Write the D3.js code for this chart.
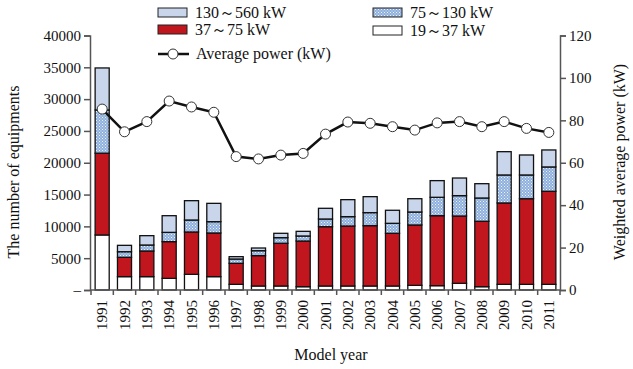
<!DOCTYPE html>
<html>
<head>
<meta charset="utf-8">
<script src="https://cdnjs.cloudflare.com/ajax/libs/d3/7.8.5/d3.min.js"></script>
<style>
  body { margin: 0; background: #fff; }
  svg text { font-family: "Liberation Serif", serif; fill: #111; }
</style>
</head>
<body>
<div id="chart"></div>
<script>
// data
var years = ["1991","1992","1993","1994","1995","1996","1997","1998","1999","2000",
             "2001","2002","2003","2004","2005","2006","2007","2008","2009","2010","2011"];
var kw19_37  = [8650, 2100, 2100, 1830, 2460, 2100, 890, 630, 630, 520, 630, 630, 630, 630, 730, 680, 1050, 520, 890, 890, 890];
var kw37_75  = [12850, 3040, 4030, 5770, 6660, 6860, 3300, 4770, 6710, 7180, 9320, 9430, 9480, 8280, 9490, 11000, 10580, 10280, 12790, 13460, 14620];
var kw75_130 = [6800, 880, 940, 1460, 1880, 1780, 680, 780, 890, 790, 1210, 1470, 2050, 1570, 2040, 2890, 3200, 3660, 4400, 3730, 3830];
var kw130_560 = [6600, 1000, 1470, 2620, 3040, 2880, 370, 420, 680, 730, 1680, 2670, 2510, 2050, 2090, 2620, 2770, 2250, 3660, 3140, 2670];
var avgPower = [85.3, 74.6, 79.4, 89.1, 86.3, 83.8, 62.9, 61.8, 63.6, 64.4, 73.5, 79.2, 78.6, 77.0, 75.4, 78.8, 79.4, 77.0, 79.4, 76.2, 74.3];
var leftTicks = [0, 5000, 10000, 15000, 20000, 25000, 30000, 35000, 40000];
var rightTicks = [0, 20, 40, 60, 80, 100, 120];

var W = 633, H = 369;
var FONT = "Liberation Serif";
var svg = d3.select("#chart").append("svg").attr("width", W).attr("height", H)
  .attr("font-family", FONT);

// hatch pattern for 75~130 kW
var defs = svg.append("defs");
var pat = defs.append("pattern").attr("id", "dots").attr("patternUnits", "userSpaceOnUse")
  .attr("width", 3).attr("height", 3);
pat.append("rect").attr("width", 3).attr("height", 3).attr("fill", "#8fb0dc");
pat.append("rect").attr("x", 0).attr("y", 0).attr("width", 1).attr("height", 1).attr("fill", "#eef3fb");
pat.append("rect").attr("x", 1.5).attr("y", 1.5).attr("width", 1).attr("height", 1).attr("fill", "#dde7f5");

var series = [
  {key: "w", vals: kw19_37, fill: "#ffffff", label: "19～37 kW"},
  {key: "r", vals: kw37_75, fill: "#c2161f", label: "37～75 kW"},
  {key: "h", vals: kw75_130, fill: "url(#dots)", label: "75～130 kW"},
  {key: "b", vals: kw130_560, fill: "#c8d5ea", label: "130～560 kW"}
];

var x = d3.scaleBand().domain(years).range([91, 560]).paddingInner(0.37).paddingOuter(0.185);
var y = d3.scaleLinear().domain([0, 40000]).range([290, 35.5]);
var y2 = d3.scaleLinear().domain([0, 120]).range([290, 35.5]);

// stacked bars
var rows = years.map(function(yr, i) {
  var o = {year: yr};
  series.forEach(function(s) { o[s.key] = s.vals[i]; });
  return o;
});
var stack = d3.stack().keys(series.map(function(s) { return s.key; }))(rows);

svg.append("g").selectAll("g").data(stack).enter().append("g")
  .attr("fill", function(d, i) { return series[i].fill; })
  .selectAll("rect").data(function(d) { return d; }).enter().append("rect")
    .attr("x", function(d) { return x(d.data.year); })
    .attr("width", x.bandwidth())
    .attr("y", function(d) { return y(d[1]); })
    .attr("height", function(d) { return y(d[0]) - y(d[1]); })
    .attr("stroke", "#111").attr("stroke-width", 1.3);

// axes
var axisCol = "#555";
var gl = svg.append("g").attr("transform", "translate(90,0)")
  .call(d3.axisLeft(y).tickValues(leftTicks).tickSize(6).tickPadding(3)
    .tickFormat(function(d) { return d === 0 ? "–" : d; }));

var gr = svg.append("g").attr("transform", "translate(560,0)")
  .call(d3.axisRight(y2).tickValues(rightTicks).tickSize(6).tickPadding(3));

var gx = svg.append("g").attr("transform", "translate(0,290)")
  .call(d3.axisBottom(x).tickSize(0).tickPadding(8));
gx.selectAll("text")
  .attr("transform", "rotate(-90)").attr("text-anchor", "end")
  .attr("x", -10).attr("y", 0).attr("dy", "0.35em");
gx.select(".domain").attr("d", "M90,0H560");

// tick marks between the bars
var bounds = years.map(function(yr) { return x(yr) - x.step() * x.paddingInner() / 2; });
bounds.push(560);
gx.selectAll("line.sep").data(bounds).enter().append("line").attr("class", "sep")
  .attr("x1", function(d) { return d; }).attr("x2", function(d) { return d; })
  .attr("y1", 0).attr("y2", 5);

[gl, gr, gx].forEach(function(g) {
  g.attr("font-family", FONT).attr("font-size", 15);
  g.selectAll(".domain").attr("stroke", axisCol).attr("stroke-width", 1.5);
  g.selectAll("line").attr("stroke", axisCol).attr("stroke-width", 1.5);
  g.selectAll("text").attr("fill", "#111");
});

// average power line
var line = d3.line()
  .x(function(d, i) { return x(years[i]) + x.bandwidth() / 2; })
  .y(function(d) { return y2(d); });
svg.append("path").datum(avgPower).attr("d", line)
  .attr("fill", "none").attr("stroke", "#111").attr("stroke-width", 2.5);
svg.selectAll("circle.pt").data(avgPower).enter().append("circle").attr("class", "pt")
  .attr("cx", function(d, i) { return x(years[i]) + x.bandwidth() / 2; })
  .attr("cy", function(d) { return y2(d); })
  .attr("r", 5).attr("fill", "#fff").attr("stroke", "#333").attr("stroke-width", 1);

// axis titles
svg.append("text").attr("transform", "translate(19,172) rotate(-90)")
  .attr("text-anchor", "middle").attr("font-size", 16).text("The number of equipments");
svg.append("text").attr("transform", "translate(625,162) rotate(-90)")
  .attr("text-anchor", "middle").attr("font-size", 16).text("Weighted average power (kW)");
svg.append("text").attr("x", 331).attr("y", 360)
  .attr("text-anchor", "middle").attr("font-size", 16).text("Model year");

// legend
var legend = [
  {s: series[3], x: 158, y: 8},
  {s: series[1], x: 158, y: 25},
  {s: series[2], x: 373, y: 8},
  {s: series[0], x: 373, y: 26}
];
legend.forEach(function(l) {
  svg.append("rect").attr("x", l.x).attr("y", l.y).attr("width", 29).attr("height", 9)
    .attr("fill", l.s.fill).attr("stroke", "#222").attr("stroke-width", 1);
  svg.append("text").attr("x", l.x + 37).attr("y", l.y + 10)
    .attr("font-size", 16).text(l.s.label);
});
svg.append("line").attr("x1", 158).attr("x2", 189).attr("y1", 54).attr("y2", 54)
  .attr("stroke", "#111").attr("stroke-width", 2.5);
svg.append("circle").attr("cx", 173).attr("cy", 54).attr("r", 5)
  .attr("fill", "#fff").attr("stroke", "#333");
svg.append("text").attr("x", 196).attr("y", 59).attr("font-size", 16).text("Average power (kW)");
</script>
</body>
</html>
